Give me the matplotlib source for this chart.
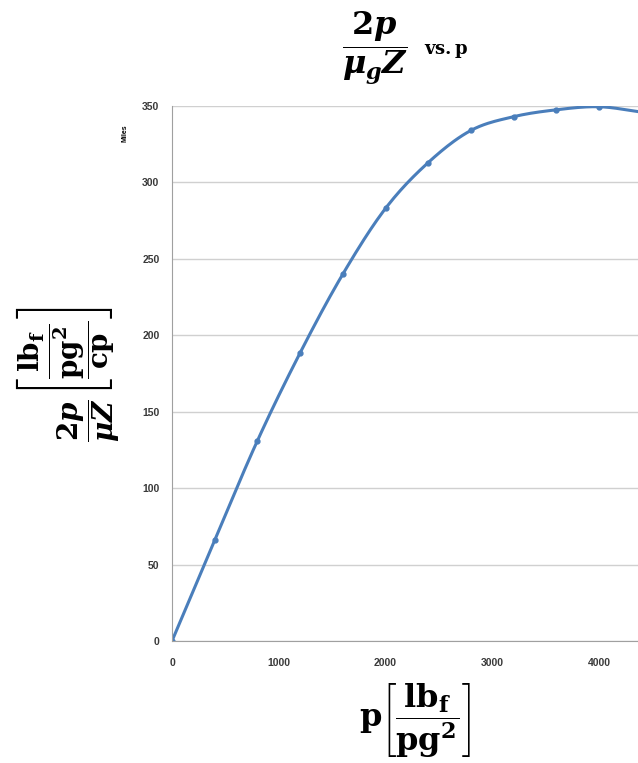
import numpy as np
import matplotlib
matplotlib.use("Agg")
import matplotlib.pyplot as plt

# data
pressure = [0, 400, 800, 1200, 1600, 2000, 2400, 2800, 3200, 3600, 4000, 4400]
two_p_over_muz = [0, 66, 131, 188.5, 240, 283, 313, 334, 343, 347.5, 349.5, 346]
y_ticks = [0, 50, 100, 150, 200, 250, 300, 350]
x_ticks = [0, 1000, 2000, 3000, 4000]

plt.rcParams['mathtext.fontset'] = 'custom'
plt.rcParams['mathtext.rm'] = 'DejaVu Serif:bold'
plt.rcParams['mathtext.bf'] = 'DejaVu Serif:bold'
plt.rcParams['mathtext.it'] = 'DejaVu Serif:italic:bold'


def smooth(xs, ys, n=20):
    # catmull-rom through the points, like Excel's smoothed line
    p = np.column_stack([xs, ys]).astype(float)
    p = np.vstack([2 * p[0] - p[1], p, 2 * p[-1] - p[-2]])
    out = []
    t = np.linspace(0, 1, n, endpoint=False)[:, None]
    for i in range(1, len(p) - 2):
        p0, p1, p2, p3 = p[i - 1], p[i], p[i + 1], p[i + 2]
        seg = 0.5 * ((2 * p1) + (-p0 + p2) * t + (2 * p0 - 5 * p1 + 4 * p2 - p3) * t ** 2
                     + (-p0 + 3 * p1 - 3 * p2 + p3) * t ** 3)
        out.append(seg)
    out.append(p[-2][None, :])
    out = np.vstack(out)
    return out[:, 0], out[:, 1]


fig = plt.figure(figsize=(6.38, 7.63), dpi=100)
ax = fig.add_axes([0.2696, 0.1599, 0.7304, 0.7012])

sx, sy = smooth(pressure, two_p_over_muz)
ax.plot(sx, sy, color='#4A7EBB', lw=2.2, solid_capstyle='round')
ax.plot(pressure, two_p_over_muz, 'o', color='#4A7EBB', ms=3.5)

ax.set_xlim(0, 4365)
ax.set_ylim(0, 350)
ax.set_xticks(x_ticks)
ax.set_yticks(y_ticks)
ax.yaxis.grid(True, color='#D0D0D0', lw=1)
ax.set_axisbelow(True)
for s in ['top', 'right']:
    ax.spines[s].set_visible(False)
for s in ['left', 'bottom']:
    ax.spines[s].set_color('#A0A0A0')
ax.tick_params(axis='x', length=0, pad=12)
ax.tick_params(axis='y', length=0, pad=9)
for lab in ax.get_xticklabels() + ax.get_yticklabels():
    lab.set_fontsize(7.5)
    lab.set_fontweight('bold')
    lab.set_color('#3A3A3A')
    lab.set_family('Liberation Sans')

fig.text(0.196, 0.826, 'Miles', rotation=90, fontsize=5, fontweight='bold',
         ha='center', va='center', family='Liberation Sans')

# title
fig.text(0.588, 0.937, r'$\dfrac{2p}{\mu_g Z}$', fontsize=23, ha='center', va='center')
fig.text(0.70, 0.933, r'$\mathrm{vs.p}$', fontsize=13, ha='center', va='center')

# y label
fig.text(0.108, 0.51, r'$\dfrac{2p}{\mu Z}\left[\dfrac{\dfrac{\mathrm{lb}_\mathrm{f}}{\mathrm{pg}^2}}{\mathrm{cp}}\right]$',
         rotation=90, fontsize=20, ha='center', va='center')

# x label
fig.text(0.65, 0.055, r'$\mathrm{p}\left[\dfrac{\mathrm{lb}_\mathrm{f}}{\mathrm{pg}^2}\right]$',
         fontsize=23, ha='center', va='center')

fig.savefig('out.png', dpi=100)
